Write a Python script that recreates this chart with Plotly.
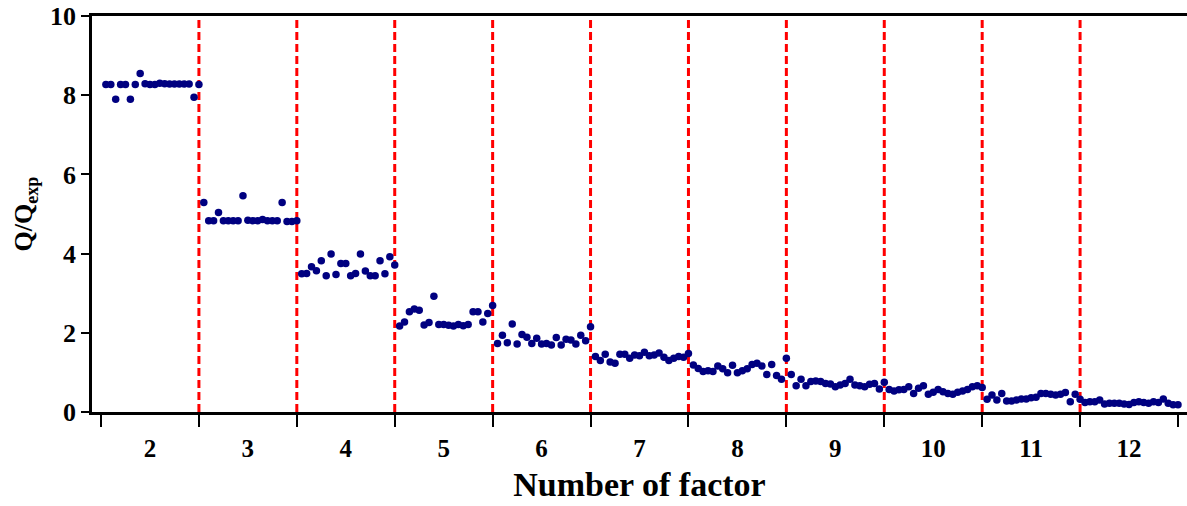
import plotly.graph_objects as go

factors = [2, 3, 4, 5, 6, 7, 8, 9, 10, 11, 12]

q_f2 = [8.27, 8.27, 7.90, 8.27, 8.27, 7.90, 8.27, 8.55, 8.29, 8.27, 8.27, 8.30, 8.29, 8.28, 8.28, 8.28, 8.28, 8.28, 7.95, 8.27]
q_f3 = [5.29, 4.83, 4.83, 5.04, 4.83, 4.83, 4.83, 4.83, 5.46, 4.84, 4.83, 4.83, 4.86, 4.83, 4.83, 4.83, 5.29, 4.81, 4.81, 4.83]
q_f4 = [3.49, 3.50, 3.67, 3.57, 3.82, 3.44, 3.99, 3.47, 3.75, 3.75, 3.44, 3.50, 3.99, 3.56, 3.44, 3.44, 3.82, 3.49, 3.92, 3.71]
q_f5 = [2.17, 2.27, 2.53, 2.60, 2.57, 2.20, 2.26, 2.92, 2.21, 2.21, 2.19, 2.17, 2.21, 2.18, 2.21, 2.53, 2.53, 2.27, 2.49, 2.69]
q_f6 = [1.73, 1.94, 1.75, 2.22, 1.72, 1.96, 1.89, 1.73, 1.86, 1.72, 1.73, 1.69, 1.88, 1.69, 1.84, 1.82, 1.72, 1.94, 1.80, 2.15]
q_f7 = [1.40, 1.30, 1.46, 1.26, 1.23, 1.46, 1.46, 1.36, 1.44, 1.42, 1.51, 1.42, 1.44, 1.49, 1.38, 1.30, 1.36, 1.40, 1.38, 1.48]
q_f8 = [1.19, 1.10, 1.02, 1.04, 1.02, 1.16, 1.09, 0.99, 1.18, 0.99, 1.04, 1.09, 1.20, 1.23, 1.16, 0.95, 1.20, 0.92, 0.83, 1.36]
q_f9 = [0.95, 0.66, 0.83, 0.66, 0.77, 0.78, 0.77, 0.72, 0.71, 0.64, 0.68, 0.72, 0.83, 0.68, 0.66, 0.64, 0.70, 0.72, 0.58, 0.75]
q_f10 = [0.57, 0.53, 0.56, 0.57, 0.64, 0.47, 0.60, 0.66, 0.45, 0.50, 0.57, 0.51, 0.47, 0.45, 0.50, 0.53, 0.57, 0.64, 0.66, 0.62]
q_f11 = [0.32, 0.43, 0.30, 0.47, 0.28, 0.28, 0.30, 0.33, 0.33, 0.36, 0.37, 0.47, 0.47, 0.45, 0.43, 0.45, 0.49, 0.26, 0.45, 0.32]
q_f12 = [0.24, 0.26, 0.26, 0.30, 0.20, 0.22, 0.22, 0.22, 0.20, 0.19, 0.24, 0.26, 0.24, 0.22, 0.26, 0.24, 0.33, 0.22, 0.18, 0.18]

series = [q_f2, q_f3, q_f4, q_f5, q_f6, q_f7, q_f8, q_f9, q_f10, q_f11, q_f12]

xs, ys = [], []
for f, vals in zip(factors, series):
    n = len(vals)
    for i, v in enumerate(vals):
        xs.append(f - 0.5 + (i + 1) / n)
        ys.append(v)

boundaries = [f + 0.5 for f in factors[:-1]]
edges = [factors[0] - 0.5] + [f + 0.5 for f in factors]

fig = go.Figure()
for b in boundaries:
    fig.add_trace(go.Scatter(x=[b, b], y=[0, 10], mode="lines",
                             line=dict(color="#FF0000", width=3, dash="8px,4px"),
                             hoverinfo="skip", showlegend=False))
fig.add_trace(go.Scatter(x=xs, y=ys, mode="markers",
                         marker=dict(color="#000080", size=7.5, line=dict(width=0)),
                         showlegend=False, cliponaxis=False))

font_family = "Liberation Serif"
fig.update_layout(
    width=1187, height=506,
    margin=dict(l=92, r=0, t=16, b=94),
    paper_bgcolor="white", plot_bgcolor="white",
    font=dict(family=font_family, color="black", size=24, weight="bold"),
    showlegend=False,
)
fig.update_xaxes(
    range=[1.408, 12.592],
    tickmode="array", tickvals=factors, ticktext=[str(f) for f in factors],
    ticks="outside", ticklen=12, tickcolor="rgba(0,0,0,0)", tickwidth=2,
    tickfont=dict(family=font_family, size=25, weight="bold"),
    minor=dict(tickmode="array", tickvals=edges, ticks="outside", ticklen=12,
               tickwidth=2, tickcolor="black", showgrid=False),
    showline=True, linecolor="black", linewidth=2.5, mirror=True,
    showgrid=False, zeroline=False,
    title=dict(text="Number of factor", font=dict(family=font_family, size=34, weight="bold"), standoff=12),
)
fig.update_yaxes(
    range=[0, 10], tickmode="array", tickvals=[0, 2, 4, 6, 8, 10],
    ticks="outside", ticklen=8, tickwidth=2, tickcolor="black",
    tickfont=dict(family=font_family, size=26, weight="bold"),
    showline=True, linecolor="black", linewidth=2.5,
    showgrid=False, zeroline=False,
    title=dict(text="Q/Q<sub>exp</sub>", font=dict(family=font_family, size=26, weight="bold"), standoff=10),
)
fig.write_html("out.html")
